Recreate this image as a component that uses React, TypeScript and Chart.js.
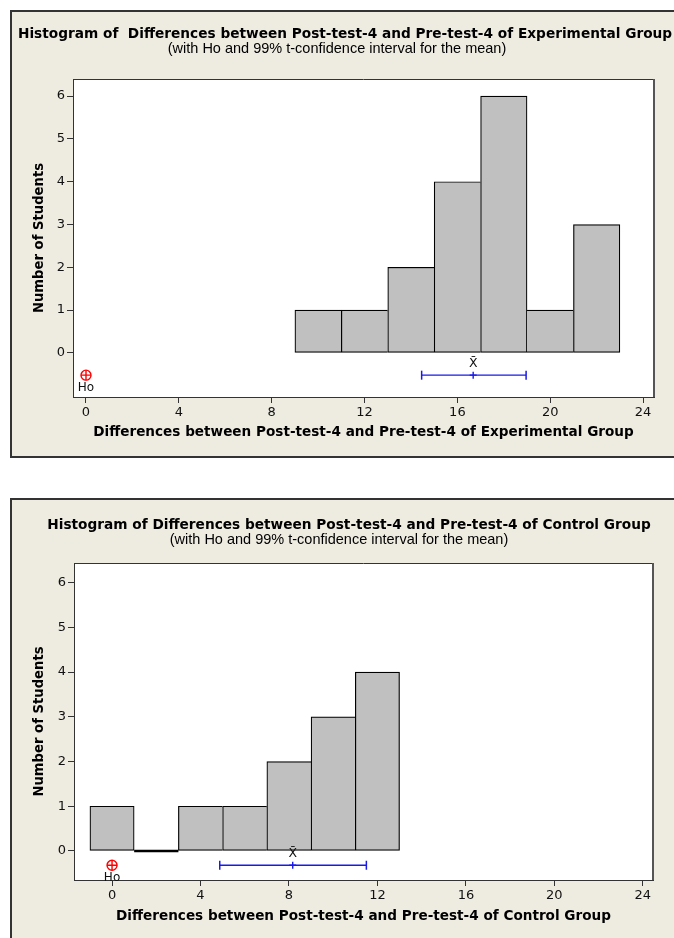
import React, { useEffect, useRef } from "react";
import { Chart, registerables } from "chart.js";

Chart.register(...registerables);

// ---------- data ----------
const xTickValues = [0, 4, 8, 12, 16, 20, 24];
const yTickValues = [0, 1, 2, 3, 4, 5, 6];
const yAxisLabel = "Number of Students";
const subTitleText = "(with Ho and 99% t-confidence interval for the mean)";

const expTitle = "Histogram of  Differences between Post-test-4 and Pre-test-4 of Experimental Group";
const expXLabel = "Differences between Post-test-4 and Pre-test-4 of Experimental Group";
const expBinEdges = [9, 11, 13, 15, 17, 19, 21, 23];
const expCounts = [1, 1, 2, 4, 6, 1, 3];
const expCi = [14.46, 16.68, 18.96]; // low, mean, high
const expCiRow = -0.52;
const expHo = 0;
const expXRange = [-0.56, 24.47];
const expYRange = [-1.03, 6.4];

const ctlTitle = "Histogram of Differences between Post-test-4 and Pre-test-4 of Control Group";
const ctlXLabel = "Differences between Post-test-4 and Pre-test-4 of Control Group";
const ctlBinEdges = [-1, 1, 3, 5, 7, 9, 11, 13];
const ctlCounts = [1, 0, 1, 1, 2, 3, 4];
const ctlCi = [4.87, 8.17, 11.5];
const ctlCiRow = -0.32;
const ctlHo = 0;
const ctlXRange = [-1.72, 24.46];
const ctlYRange = [-0.65, 6.44];

// ---------- styles ----------
const BEIGE = "#EEEBE1";
const FONT = "DejaVu Sans";
const BLUE = "rgb(25,25,235)";
const RED = "#FF0000";

type HistProps = {
  title: string;
  xLabel: string;
  edges: number[];
  counts: number[];
  ci: number[];
  ciRow: number;
  ho: number;
  xRange: number[];
  yRange: number[];
  width: number;
  height: number;
  pad: { left: number; right: number; top: number; bottom: number };
  yAxisW: number;
  xAxisH: number;
  titleY: number;
  subY: number;
  titleX: number;
  subX: number;
};

function Histogram(p: HistProps) {
  const ref = useRef<HTMLCanvasElement | null>(null);
  useEffect(() => {
    if (!ref.current) return;
    const mids = p.counts.map((c, i) => ({ x: (p.edges[i] + p.edges[i + 1]) / 2, y: c }));
    const zeroLine: any[] = [];
    p.counts.forEach((c, i) => {
      if (c === 0) {
        zeroLine.push({ x: p.edges[i], y: 0 }, { x: p.edges[i + 1], y: 0 }, { x: p.edges[i + 1], y: null });
      }
    });
    const n = p.counts.length;

    const plugin = {
      id: "frameDeco",
      beforeDraw(chart: any) {
        const { ctx, chartArea: a, width, height } = chart;
        ctx.save();
        ctx.fillStyle = BEIGE;
        ctx.fillRect(0, 0, width, height);
        ctx.fillStyle = "#FFFFFF";
        ctx.fillRect(a.left, a.top, a.right - a.left, a.bottom - a.top);
        ctx.restore();
      },
      afterDatasetsDraw(chart: any) {
        const { ctx } = chart;
        const xs = chart.scales.x;
        const ys = chart.scales.y;
        ctx.save();
        ctx.fillStyle = "#111";
        ctx.textAlign = "center";
        ctx.textBaseline = "middle";
        ctx.font = `12px "${FONT}"`;
        ctx.fillText("Ho", xs.getPixelForValue(p.ho), ys.getPixelForValue(p.ciRow) + 12.5);
        ctx.font = `12.5px "${FONT}"`;
        ctx.fillText("X\u0304", xs.getPixelForValue(p.ci[1]), ys.getPixelForValue(p.ciRow) - 11);
        ctx.restore();
      },
      afterDraw(chart: any) {
        const { ctx, chartArea: a } = chart;
        ctx.save();
        ctx.strokeStyle = "#333";
        ctx.lineWidth = 1;
        ctx.beginPath();
        ctx.moveTo(a.left, a.top + 0.5);
        ctx.lineTo(a.right, a.top + 0.5);
        ctx.stroke();
        ctx.strokeStyle = "#555";
        ctx.lineWidth = 2;
        ctx.beginPath();
        ctx.moveTo(a.right, a.top);
        ctx.lineTo(a.right, a.bottom);
        ctx.stroke();
        ctx.fillStyle = "#000";
        ctx.textAlign = "center";
        ctx.textBaseline = "middle";
        ctx.font = `bold 13.7px "${FONT}"`;
        ctx.fillText(p.title, p.titleX, p.titleY);
        ctx.font = `14.5px "Liberation Sans"`;
        ctx.fillText(subTitleText, p.subX, p.subY);
        ctx.restore();
      },
    };

    const chart = new Chart(ref.current, {
      type: "scatter",
      data: {
        datasets: [
          {
            type: "bar",
            data: mids as any,
            backgroundColor: "#C0C0C0",
            borderColor: "#000",
            borderSkipped: false,
            borderWidth: (ctx: any) => {
              const i = ctx.dataIndex;
              const c = p.counts[i];
              const right = i === n - 1 || p.counts[i + 1] < c ? 1.2 : 0;
              const left = i === 0 || p.counts[i - 1] <= c ? 1.2 : 0;
              return { top: 1.2, bottom: 1.2, left, right };
            },
            barPercentage: 1,
            categoryPercentage: 1,
            grouped: false,
            order: 5,
          } as any,
          {
            type: "line",
            data: zeroLine,
            borderColor: "#000",
            borderWidth: 2.5,
            pointRadius: 0,
            showLine: true,
            spanGaps: false,
            order: 4,
          } as any,
          {
            type: "line",
            data: [
              { x: p.ci[0], y: p.ciRow },
              { x: p.ci[2], y: p.ciRow },
            ],
            borderColor: BLUE,
            borderWidth: 1.4,
            pointStyle: "line",
            pointRotation: 90,
            pointRadius: 4.5,
            pointBorderColor: BLUE,
            pointBorderWidth: 1.5,
            showLine: true,
            order: 3,
          } as any,
          {
            type: "scatter",
            data: [{ x: p.ci[1], y: p.ciRow }],
            pointStyle: "cross",
            pointRadius: 3.5,
            pointBorderColor: BLUE,
            pointBorderWidth: 1.4,
            order: 2,
          } as any,
          {
            type: "scatter",
            data: [{ x: p.ho, y: p.ciRow }],
            pointStyle: "circle",
            pointRadius: 5,
            pointBackgroundColor: "rgba(0,0,0,0)",
            pointBorderColor: RED,
            pointBorderWidth: 1.4,
            order: 1,
          } as any,
          {
            type: "scatter",
            data: [{ x: p.ho, y: p.ciRow }],
            pointStyle: "cross",
            pointRadius: 5,
            pointBorderColor: RED,
            pointBorderWidth: 1.4,
            order: 0,
          } as any,
        ],
      },
      options: {
        responsive: false,
        animation: false,
        devicePixelRatio: 1,
        events: [],
        layout: { padding: p.pad },
        plugins: { legend: { display: false }, tooltip: { enabled: false } },
        scales: {
          x: {
            type: "linear",
            min: p.xRange[0],
            max: p.xRange[1],
            offset: false,
            afterBuildTicks: (s: any) => {
              s.ticks = xTickValues.map((v) => ({ value: v }));
            },
            afterFit: (s: any) => {
              s.height = p.xAxisH;
            },
            grid: { display: true, drawOnChartArea: false, drawTicks: true, tickLength: 6, color: "#333", offset: false },
            border: { display: true, color: "#333", width: 1 },
            ticks: { font: { family: FONT, size: 13 }, color: "#111", padding: 2, maxRotation: 0, autoSkip: false },
            title: { display: true, text: p.xLabel, font: { family: FONT, size: 13.6, weight: "bold" }, color: "#000", padding: 0 },
          },
          y: {
            type: "linear",
            min: p.yRange[0],
            max: p.yRange[1],
            afterBuildTicks: (s: any) => {
              s.ticks = yTickValues.map((v) => ({ value: v }));
            },
            afterFit: (s: any) => {
              s.width = p.yAxisW;
            },
            grid: { display: true, drawOnChartArea: false, drawTicks: true, tickLength: 6, color: "#333" },
            border: { display: true, color: "#333", width: 1 },
            ticks: { font: { family: FONT, size: 13 }, color: "#111", padding: 2, autoSkip: false },
            title: { display: true, text: yAxisLabel, font: { family: FONT, size: 13.2, weight: "bold" }, color: "#000", padding: 0 },
          },
        },
      } as any,
      plugins: [plugin as any],
    });
    return () => chart.destroy();
  }, []);
  return <canvas ref={ref} width={p.width} height={p.height} style={{ display: "block", width: p.width, height: p.height }} />;
}

export default function App() {
  return (
    <div>
      <div
        style={{
          position: "absolute",
          left: 10,
          top: 10,
          width: 664,
          height: 448,
          boxSizing: "border-box",
          borderLeft: "2px solid #333",
          borderTop: "2px solid #333",
          borderBottom: "2px solid #333",
          background: BEIGE,
        }}
      >
        <Histogram
          title={expTitle}
          xLabel={expXLabel}
          edges={expBinEdges}
          counts={expCounts}
          ci={expCi}
          ciRow={expCiRow}
          ho={expHo}
          xRange={expXRange}
          yRange={expYRange}
          width={662}
          height={444}
          pad={{ left: 20, right: 20, top: 67, bottom: 15 }}
          yAxisW={41}
          xAxisH={44}
          titleX={333}
          titleY={22}
          subX={325}
          subY={37}
        />
      </div>
      <div
        style={{
          position: "absolute",
          left: 10,
          top: 498,
          width: 664,
          height: 440,
          boxSizing: "border-box",
          borderLeft: "2px solid #333",
          borderTop: "2px solid #333",
          background: BEIGE,
        }}
      >
        <Histogram
          title={ctlTitle}
          xLabel={ctlXLabel}
          edges={ctlBinEdges}
          counts={ctlCounts}
          ci={ctlCi}
          ciRow={ctlCiRow}
          ho={ctlHo}
          xRange={ctlXRange}
          yRange={ctlYRange}
          width={662}
          height={438}
          pad={{ left: 20, right: 21, top: 63, bottom: 13 }}
          yAxisW={42}
          xAxisH={45}
          titleX={337}
          titleY={25}
          subX={327}
          subY={40}
        />
      </div>
    </div>
  );
}
